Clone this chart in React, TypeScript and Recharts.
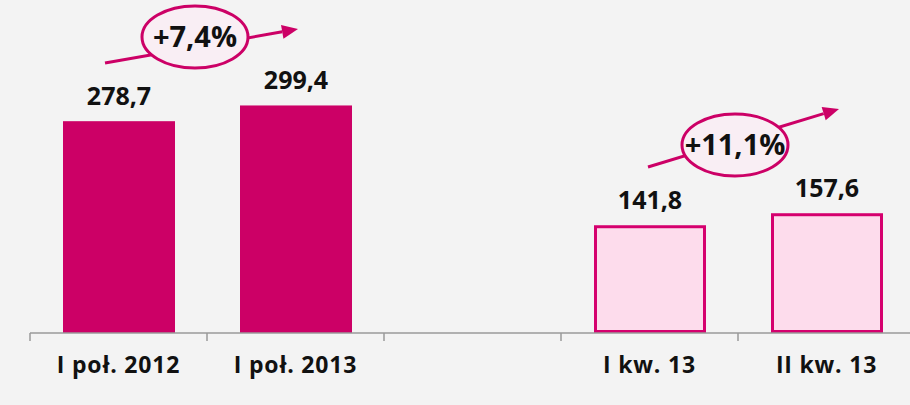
import React from 'react';
import { BarChart, Bar, XAxis, YAxis, Cell, LabelList } from 'recharts';

const CATEGORIES = ['I poł. 2012', 'I poł. 2013', '', 'I kw. 13', 'II kw. 13'];
const VALUES: (number | null)[] = [278.7, 299.4, null, 141.8, 157.6];
const OUTLINED = [false, false, false, true, true];
const GROWTH_LABELS = ['+7,4%', '+11,1%'];

const FONT = '"Open Sans", "DejaVu Sans", sans-serif';
const MAGENTA = '#cc0066';
const LIGHT_PINK = '#fddcec';
const BG = '#f3f3f3';
const BAND = 177;

const data = CATEGORIES.map((name, i) => ({ name, value: VALUES[i], outlined: OUTLINED[i] }));

const fmt = (v: any) => (v == null ? '' : Number(v).toFixed(1).replace('.', ','));

const AxisTick: React.FC<any> = ({ x, y, payload }) => (
    <g>
        <line x1={x - BAND / 2} x2={x - BAND / 2} y1={y} y2={y + 8} stroke="#9a9a9a" strokeWidth={1.5} />
        <text x={x} y={y + 40} textAnchor="middle" fill="#111"
              style={{ fontFamily: FONT, fontWeight: 700, fontSize: 23, letterSpacing: 0.8 }}>
            {payload.value}
        </text>
    </g>
);

const BarShape: React.FC<any> = ({ x, y, width, height, payload }) => {
    if (!height) return null;
    if (payload.outlined) {
        return <rect x={x + 1.5} y={y + 1.5} width={width - 3} height={height - 3}
                     fill={LIGHT_PINK} stroke="#d5006e" strokeWidth={3} />;
    }
    return <rect x={x} y={y} width={width} height={height} fill={MAGENTA} />;
};

const Growth: React.FC<{ cx: number; cy: number; from: [number, number]; to: [number, number]; label: string }> =
    ({ cx, cy, from, to, label }) => {
        const ang = Math.atan2(to[1] - from[1], to[0] - from[0]);
        const len = 16, half = 7;
        const bx = to[0] - len * Math.cos(ang), by = to[1] - len * Math.sin(ang);
        const pts = [
            `${to[0]},${to[1]}`,
            `${bx + half * Math.sin(ang)},${by - half * Math.cos(ang)}`,
            `${bx - half * Math.sin(ang)},${by + half * Math.cos(ang)}`,
        ].join(' ');
        return (
            <g>
                <line x1={from[0]} y1={from[1]} x2={bx} y2={by} stroke={MAGENTA} strokeWidth={3} />
                <polygon points={pts} fill={MAGENTA} />
                <ellipse cx={cx} cy={cy} rx={53} ry={31} fill="#f9eef4" stroke={MAGENTA} strokeWidth={3} />
                <text x={cx} y={cy + 10} textAnchor="middle" fill="#111"
                      style={{ fontFamily: FONT, fontWeight: 700, fontSize: 29 }}>
                    {label}
                </text>
            </g>
        );
    };

export default function App() {
    return (
        <div style={{ position: 'absolute', left: 0, top: 0, width: 910, height: 405,
                      overflow: 'hidden', background: BG }}>
            <BarChart width={920} height={405} data={data}
                      margin={{ top: 29, right: 5, bottom: 0, left: 30 }}>
                <YAxis hide domain={[0, 400]} />
                <XAxis dataKey="name" height={72} interval={0}
                       axisLine={{ stroke: '#9a9a9a', strokeWidth: 1.5 }}
                       tickLine={false} tickSize={0} tickMargin={0}
                       tick={<AxisTick />} />
                <Bar dataKey="value" barSize={112} isAnimationActive={false} shape={<BarShape />}>
                    {data.map((d, i) => (
                        <Cell key={i} fill={d.outlined ? LIGHT_PINK : MAGENTA} />
                    ))}
                    <LabelList dataKey="value" position="top" offset={16} formatter={fmt}
                               style={{ fontFamily: FONT, fontWeight: 700, fontSize: 25, fill: '#111' }} />
                </Bar>
            </BarChart>
            <svg width={910} height={405} style={{ position: 'absolute', left: 0, top: 0, pointerEvents: 'none' }}>
                <Growth cx={195} cy={37} from={[105, 63]} to={[298, 29]} label={GROWTH_LABELS[0]} />
                <Growth cx={735} cy={145} from={[648, 167]} to={[839, 109]} label={GROWTH_LABELS[1]} />
            </svg>
        </div>
    );
}
